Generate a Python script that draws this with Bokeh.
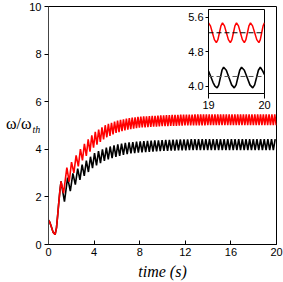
import numpy as np
from bokeh.plotting import figure
from bokeh.models import FixedTicker, Range1d, Span, PrintfTickFormatter, Div
from bokeh.layouts import column
from bokeh.embed import file_html
from bokeh.resources import INLINE

# ---------------- data ----------------
x_ticks = [0, 4, 8, 12, 16, 20]
y_ticks = [0, 2, 4, 6, 8, 10]

# common start (both curves coincide)
start_t = [0.0, 0.1, 0.25, 0.4, 0.58, 0.7, 0.8, 0.9, 1.0, 1.1]
start_v = [1.02, 0.95, 0.75, 0.52, 0.42, 0.7, 1.2, 1.75, 2.25, 2.65]

# envelope of the oscillating responses (mean, half peak-to-peak, period)
env_t = [1.3, 1.5, 2.0, 2.5, 3.0, 4.0, 5.0, 6.0, 7.0, 8.0, 10.0, 12.0, 14.0, 20.0]
red_mid = [2.55, 2.72, 3.15, 3.5, 3.85, 4.4, 4.75, 4.95, 5.07, 5.14, 5.2, 5.23, 5.24, 5.24]
red_amp = [0.4, 0.45, 0.3, 0.3, 0.3, 0.3, 0.27, 0.25, 0.24, 0.23, 0.23, 0.23, 0.23, 0.23]
red_per = [0.6, 0.41, 0.41, 0.38, 0.34, 0.3, 0.28, 0.26, 0.255, 0.25, 0.25, 0.25, 0.25, 0.25]
black_mid = [2.2, 2.3, 2.62, 2.88, 3.1, 3.55, 3.8, 3.95, 4.05, 4.1, 4.16, 4.19, 4.2, 4.2]
black_amp = [0.45, 0.45, 0.3, 0.28, 0.28, 0.28, 0.26, 0.25, 0.24, 0.23, 0.23, 0.23, 0.23, 0.23]
black_per = [0.6, 0.5, 0.44, 0.4, 0.37, 0.35, 0.34, 0.33, 0.33, 0.32, 0.32, 0.32, 0.32, 0.32]
red_first_trough = 1.32
black_first_trough = 1.4

# inset (zoom on 19 s .. 20 s)
inset_x_ticks = [19, 20]
inset_y_ticks = [4.0, 4.8, 5.6]
inset_red_t = [19.0, 19.035, 19.07, 19.105, 19.14, 19.168, 19.195, 19.222, 19.25,
               19.285, 19.32, 19.355, 19.39, 19.418, 19.445, 19.472, 19.5,
               19.535, 19.57, 19.605, 19.64, 19.668, 19.695, 19.722, 19.75,
               19.787, 19.825, 19.862, 19.9, 19.925, 19.95, 19.975, 20.0]
inset_red_v = [5.47, 5.40, 5.24, 5.08, 5.01, 5.08, 5.24, 5.40, 5.47,
               5.40, 5.24, 5.08, 5.01, 5.08, 5.24, 5.40, 5.47,
               5.40, 5.24, 5.08, 5.01, 5.08, 5.24, 5.40, 5.47,
               5.40, 5.24, 5.08, 5.01, 5.08, 5.24, 5.40, 5.47]
inset_black_t = [19.0, 19.04, 19.08, 19.115, 19.154, 19.183, 19.212, 19.241, 19.27,
                 19.318, 19.365, 19.413, 19.46, 19.493, 19.525, 19.558, 19.59,
                 19.64, 19.69, 19.74, 19.79, 19.824, 19.858, 19.891, 19.925,
                 19.96, 20.0]
inset_black_v = [4.35, 4.225, 4.09, 4.0, 3.96, 4.03, 4.2, 4.37, 4.44,
                 4.37, 4.2, 4.03, 3.96, 4.03, 4.2, 4.37, 4.44,
                 4.37, 4.2, 4.03, 3.96, 4.03, 4.2, 4.37, 4.44,
                 4.37, 4.27]
inset_red_mean = 5.24
inset_black_mean = 4.225


def zigzag(t0, t_end, mid, amp, per):
    ts, vs = [], []
    t, s = t0, -1.0
    while t <= t_end + 1e-9:
        ts.append(t)
        vs.append(np.interp(t, env_t, mid) + s * np.interp(t, env_t, amp))
        t += np.interp(t, env_t, per) / 2.0
        s = -s
    return ts, vs


rt, rv = zigzag(red_first_trough, 20.0, red_mid, red_amp, red_per)
bt, bv = zigzag(black_first_trough, 20.0, black_mid, black_amp, black_per)
red_t = start_t + rt
red_v = start_v + rv
black_t = start_t + bt
black_v = start_v + bv

# ---------------- main figure ----------------
p = figure(width=283, height=282, x_range=Range1d(0, 20), y_range=Range1d(0, 10),
           output_backend="svg", toolbar_location=None,
           min_border_left=48, min_border_right=7, min_border_top=6, min_border_bottom=35)
p.grid.visible = False
p.outline_line_color = "black"
p.outline_line_width = 1
p.background_fill_color = "white"
p.border_fill_color = "white"

p.xaxis.ticker = FixedTicker(ticks=x_ticks)
p.yaxis.ticker = FixedTicker(ticks=y_ticks)
for ax in (p.xaxis, p.yaxis):
    ax.major_label_text_font = "Liberation Sans"
    ax.major_label_text_font_size = "11px"
    ax.major_label_text_color = "black"
    ax.minor_tick_line_color = None
    ax.major_tick_line_color = "black"
p.xaxis.major_tick_in = 4
p.xaxis.major_tick_out = 0
p.xaxis.major_label_standoff = 3
p.xaxis.axis_line_color = "black"
p.xaxis.axis_label = "time (s)"
p.xaxis.axis_label_text_font = "Liberation Serif"
p.xaxis.axis_label_text_font_style = "italic"
p.xaxis.axis_label_text_font_size = "16px"
p.xaxis.axis_label_text_color = "black"
p.xaxis.axis_label_standoff = 4
p.yaxis.major_tick_in = 0
p.yaxis.major_tick_out = 4
p.yaxis.major_label_standoff = 3
p.yaxis.axis_line_color = "#444444"

p.line(black_t, black_v, line_color="black", line_width=1.6)
p.line(red_t, red_v, line_color="#ff0000", line_width=1.6)

# y label (horizontal, with italic subscript)
ylab = Div(
    text=('<span style="font-family:\'Liberation Serif\';font-size:16px;line-height:20px;'
          'color:black;white-space:nowrap">ω/ω<span style="font-style:italic;font-size:10px;'
          'position:relative;top:4px;margin-left:1px">th</span></span>'),
    width=50, height=22,
    styles={"position": "absolute", "left": "1px", "top": "109px"})

# ---------------- inset ----------------
ins = figure(width=111, height=107, x_range=Range1d(19, 20), y_range=Range1d(3.83, 5.78),
             output_backend="svg", toolbar_location=None,
             min_border_left=25, min_border_right=6, min_border_top=3, min_border_bottom=20)
ins.grid.visible = False
ins.outline_line_color = "black"
ins.outline_line_width = 1
ins.background_fill_color = "white"
ins.border_fill_alpha = 0
ins.xaxis.ticker = FixedTicker(ticks=inset_x_ticks)
ins.yaxis.ticker = FixedTicker(ticks=inset_y_ticks)
ins.yaxis.formatter = PrintfTickFormatter(format="%.1f")
for ax in (ins.xaxis, ins.yaxis):
    ax.major_label_text_font = "Liberation Sans"
    ax.major_label_text_font_size = "11px"
    ax.major_label_text_color = "black"
    ax.minor_tick_line_color = None
    ax.major_tick_in = 0
    ax.axis_line_color = "black"
ins.xaxis.major_tick_out = 5
ins.xaxis.major_label_standoff = 2
ins.yaxis.major_tick_out = 3
ins.yaxis.major_label_standoff = 2

ins.add_layout(Span(location=inset_red_mean, dimension="width", line_color="black",
                    line_dash="5 3", line_width=1))
ins.add_layout(Span(location=inset_black_mean, dimension="width", line_color="#555555",
                    line_dash="5 3", line_width=1))
ins.line(inset_red_t, inset_red_v, line_color="#ff0000", line_width=1.5)
ins.line(inset_black_t, inset_black_v, line_color="black", line_width=1.6)
ins.styles = {"position": "absolute", "left": "160px", "top": "6px"}

layout = column(p, ins, ylab)
open("out.html", "w").write(file_html(layout, INLINE))
